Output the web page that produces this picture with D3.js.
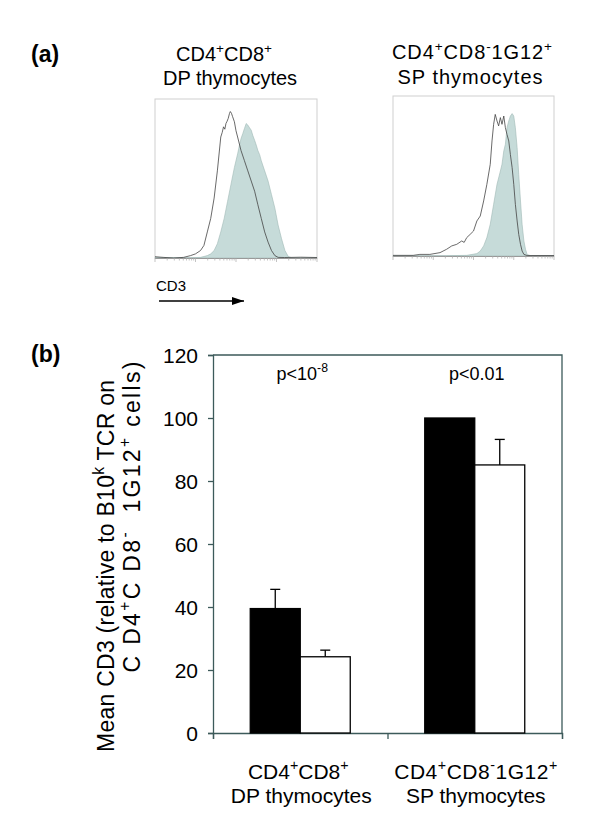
<!DOCTYPE html>
<html><head><meta charset="utf-8">
<script src="https://cdn.jsdelivr.net/npm/d3@7"></script>
<style>
html,body{margin:0;padding:0;background:#fff;}
svg{display:block;font-family:"Liberation Sans",Arial,Helvetica,sans-serif;}
</style></head>
<body><svg id="c" width="600" height="827"></svg>
<script>
// ---------- DATA ----------
// Panel (a): flow histograms, x = % of log CD3 axis (4 decades), y = % of box height
const dpOpen = [[0,0.8],[5,0.4],[11.5,0],[17.7,0.4],[21.9,1.5],[25,2.6],[28.1,4.7],[30.2,7.9],[32.3,16.4],[34.4,24.9],[36.5,37.7],[38.5,54.8],[40.6,76.1],[41.5,79],[42.3,82.5],[43.1,81],[43.8,84.6],[44.5,86],[45.2,87.8],[46,91],[46.5,92.1],[47.2,91],[47.9,88.9],[49,85.7],[50,80],[51,76.1],[53.1,67.6],[55.2,61.2],[57.3,54.8],[59.4,48.4],[61.5,42],[63.5,33.5],[65.6,24.9],[67.7,16.4],[69.8,10],[71.9,4.7],[74,1.5],[76,0.4],[80,0.3],[90,0.5],[100,0.3]];
const dpFilled = [[0,0.3],[21.9,0.2],[28.1,0.4],[32.3,1.5],[34.4,2.6],[36.5,4.7],[38.5,9],[40.6,16.4],[42.7,24.9],[44.8,35.6],[46.9,46.3],[49,56.9],[51,65.5],[52.1,70.8],[53.1,75.1],[54.2,78.3],[55.2,81.4],[56.3,84.6],[57.3,83.6],[58.3,82],[59.4,80.4],[60.4,77],[61.5,74],[62.5,71],[63.5,67.6],[64.6,65],[65.6,61.2],[67.7,54.8],[69.8,48.4],[71.9,39.9],[74,31.3],[76,20.7],[78.1,12.2],[80.2,4.7],[82.3,0.9],[84.4,0.2],[100,0.2]];
const spOpen = [[0,0.4],[12.5,0.4],[16.7,1],[22.9,1],[29.2,2.1],[33.3,4.2],[36.5,6.3],[39.6,7.3],[42.7,9.4],[44.2,8.5],[45.8,11.5],[47.9,13.5],[50,15.6],[52.1,21.9],[54.2,25],[56.3,34.4],[58.3,44.8],[60.4,57.3],[61.5,71.9],[62.5,82.3],[63.5,88.5],[64.6,84.4],[65.6,81.3],[66.7,86.5],[67.7,82.3],[68.8,87.5],[69.8,80.2],[70.8,76],[71.9,71.9],[72.9,63.5],[74,55.2],[75,44.8],[76,32.3],[77.1,21.9],[78.1,13.5],[79.2,7.3],[80.2,3.1],[81.3,1],[83.3,0.3],[100,0.3]];
const spFilled = [[0,0.2],[33.3,0.2],[45.8,0.4],[52.1,1.5],[54.2,3.1],[56.3,6.3],[58.3,11.5],[60.4,19.8],[62.5,32.3],[64.6,44.8],[66.7,53.1],[67.7,57.3],[68.8,65.6],[69.8,69.8],[70.8,80.2],[71.9,84.4],[72.9,87.5],[74,89],[75,87.5],[76,80.2],[77.1,67.7],[78.1,51],[79.2,34.4],[80.2,19.8],[81.3,9.4],[82.3,4.2],[83.3,1],[85.4,0.2],[100,0.2]];

// Panel (b): bar chart
const categories = ["DP", "SP"];
const catLine1 = [[["CD4"],["+","sup"],["CD8"],["+","sup"]], [["CD4"],["+","sup"],["CD8"],["-","sup"],["1G12"],["+","sup"]]];
const catLine2 = ["DP thymocytes", "SP thymocytes"];
const blackValues = [39.5, 100];
const blackErrors = [6.1, 0];
const whiteValues = [24.2, 85.1];
const whiteErrors = [2.1, 8.1];
const yTicks = [0, 20, 40, 60, 80, 100, 120];
const pLabels = [[["p<10"],["-8","sup"]], [["p<0.01"]]];

// ---------- HELPERS ----------
const svg = d3.select("#c");
function rich(sel, x, y, parts, fs, anchor, len, adjust) {
  const t = sel.append("text").attr("x", x).attr("y", y)
    .attr("font-size", fs).attr("text-anchor", anchor || "start").attr("fill", "#000")
    .attr("xml:space", "preserve").style("white-space", "pre");
  let up = false;
  parts.forEach(p => {
    const s = Array.isArray(p) ? p : [p];
    const ts = t.append("tspan").text(s[0]);
    if (s[1] === "sup") {
      ts.attr("font-size", fs * 0.68).attr("dy", up ? 0 : -fs * 0.42);
      up = true;
    } else if (up) {
      ts.attr("dy", fs * 0.42); up = false;
    }
  });
  if (len) t.attr("textLength", len).attr("lengthAdjust", adjust || "spacing");
  return t;
}

// ---------- PANEL (a) ----------
svg.append("text").attr("x", 31).attr("y", 62).attr("font-size", 23).attr("font-weight", "bold").text("(a)");

const boxes = [
  {x0:155, x1:317, y0:99, y1:258, open: dpOpen, filled: dpFilled},
  {x0:393, x1:554, y0:96, y1:256, open: spOpen, filled: spFilled}
];
boxes.forEach(b => {
  const hx = d3.scaleLinear().domain([0,100]).range([b.x0, b.x1]);
  const hy = d3.scaleLinear().domain([0,100]).range([b.y1, b.y0]);
  const g = svg.append("g");
  g.append("rect").attr("x", b.x0).attr("y", b.y0).attr("width", b.x1-b.x0).attr("height", b.y1-b.y0)
    .attr("fill", "none").attr("stroke", "#cfcfcf").attr("stroke-width", 1);
  g.append("path").datum(b.filled)
    .attr("d", d3.area().x(d => hx(d[0])).y0(hy(0)).y1(d => hy(d[1])))
    .attr("fill", "#c6dbd9").attr("stroke", "#9fb8b6").attr("stroke-width", 0.6);
  g.append("path").datum(b.open)
    .attr("d", d3.line().x(d => hx(d[0])).y(d => hy(d[1])))
    .attr("fill", "none").attr("stroke", "#444").attr("stroke-width", 0.8);
  // log axis ticks
  const lx = d3.scaleLog().domain([1, 10000]).range([b.x0, b.x1]);
  const tv = lx.ticks(40);
  g.append("line").attr("x1", b.x0).attr("x2", b.x1).attr("y1", b.y1+0.5).attr("y2", b.y1+0.5).attr("stroke", "#999").attr("stroke-width", 1);
  g.selectAll("line.t").data(tv).enter().append("line")
    .attr("x1", d => lx(d)).attr("x2", d => lx(d))
    .attr("y1", b.y1).attr("y2", d => b.y1 + (Math.abs(Math.log10(d) % 1) < 1e-9 ? 4 : 2.5))
    .attr("stroke", "#aaa").attr("stroke-width", 0.7);
});

// titles
rich(svg, 224, 61, [["CD4"],["+","sup"],["CD8"],["+","sup"]], 20, "middle");
rich(svg, 230, 85, ["DP thymocytes"], 20, "middle");
rich(svg, 472, 59, [["CD4"],["+","sup"],["CD8"],["-","sup"],["1G12"],["+","sup"]], 20, "middle", 160, "spacing");
rich(svg, 470, 84, ["SP thymocytes"], 20, "middle", 145, "spacing");

// CD3 arrow
svg.append("text").attr("x", 156).attr("y", 291).attr("font-size", 14).attr("textLength", 30).attr("lengthAdjust","spacingAndGlyphs").text("CD3");
svg.append("defs").append("marker").attr("id", "ah").attr("viewBox", "0 0 12 8").attr("refX", 12).attr("refY", 4)
  .attr("markerWidth", 12).attr("markerHeight", 8).attr("orient", "auto").attr("markerUnits", "userSpaceOnUse")
  .append("path").attr("d", "M0,0 L12,4 L0,8 z").attr("fill", "#000");
svg.append("line").attr("x1", 159).attr("x2", 244).attr("y1", 301).attr("y2", 301)
  .attr("stroke", "#000").attr("stroke-width", 1.3).attr("marker-end", "url(#ah)");

// ---------- PANEL (b) ----------
svg.append("text").attr("x", 31).attr("y", 362).attr("font-size", 23).attr("font-weight", "bold").text("(b)");

const L = 213, R = 562, T = 355, B = 733;
const x = d3.scaleBand().domain(categories).range([L, R]).padding(0);
const y = d3.scaleLinear().domain([0, 120]).range([B, T]);
const bw = x.bandwidth();
const xs = d3.scaleBand().domain(["black", "white"]).range([bw/2 - 50, bw/2 + 50]).padding(0);
const axisColor = "#3c5a5a";

// frame
svg.append("path").attr("d", `M${L},${T}H${R}V${B}`).attr("fill", "none").attr("stroke", axisColor).attr("stroke-width", 1.3);

// y axis
const ya = svg.append("g").attr("transform", `translate(${L},0)`)
  .call(d3.axisLeft(y).tickValues(yTicks).tickSize(5).tickPadding(10));
ya.select(".domain").attr("stroke", axisColor).attr("stroke-width", 1.3);
ya.selectAll(".tick line").attr("stroke", axisColor).attr("stroke-width", 1.3);
ya.selectAll(".tick text").attr("font-size", 21).attr("font-family", "Liberation Sans, Arial, sans-serif").attr("fill", "#000").attr("dy", "0.36em");

// x axis
const xa = svg.append("g").attr("transform", `translate(0,${B})`)
  .call(d3.axisBottom(d3.scaleLinear().domain([0, 2]).range([L, R])).tickValues([0,1,2]).tickSize(6).tickFormat(""));
xa.select(".domain").attr("stroke", axisColor).attr("stroke-width", 1.3);
xa.selectAll(".tick line").attr("stroke", axisColor).attr("stroke-width", 1.3);

// bars
const bars = svg.append("g");
categories.forEach((c, i) => {
  const series = [
    {k: "black", v: blackValues[i], e: blackErrors[i], fill: "#000"},
    {k: "white", v: whiteValues[i], e: whiteErrors[i], fill: "#fff"}
  ];
  series.forEach(s => {
    const bx = x(c) + xs(s.k);
    const cx = bx + xs.bandwidth()/2;
    if (s.e > 0) {
      bars.append("line").attr("x1", cx).attr("x2", cx).attr("y1", y(s.v)).attr("y2", y(s.v + s.e)).attr("stroke", "#000").attr("stroke-width", 1.3);
      bars.append("line").attr("x1", cx - 5).attr("x2", cx + 5).attr("y1", y(s.v + s.e)).attr("y2", y(s.v + s.e)).attr("stroke", "#000").attr("stroke-width", 1.3);
    }
    bars.append("rect").attr("x", bx).attr("y", y(s.v)).attr("width", xs.bandwidth()).attr("height", B - y(s.v))
      .attr("fill", s.fill).attr("stroke", "#000").attr("stroke-width", 1.3);
  });
  // p label
  rich(svg, x(c) + bw/2 + 2, 380, pLabels[i], 18, "middle");
  // category labels
  rich(svg, x(c) + bw/2 - 2 + i*3, 779, catLine1[i], 21, "middle", i === 0 ? null : 163, "spacing");
  rich(svg, x(c) + bw/2 + 1, 803, [catLine2[i]], 21, "middle");
});

// y title
const yt1 = svg.append("g").attr("transform", "translate(114,566) rotate(-90)");
rich(yt1, 0, 0, [["Mean CD3 (relative to B10"],["k","sup"],[" TCR on"]], 23, "middle", 372);
const yt2 = svg.append("g").attr("transform", "translate(140,517) rotate(-90)");
rich(yt2, 0, 0, [["C D4"],["+","sup"],["C D8"],["-","sup"],["  1G12"],["+","sup"],[" cells)"]], 23, "middle", 311);
</script></body></html>
